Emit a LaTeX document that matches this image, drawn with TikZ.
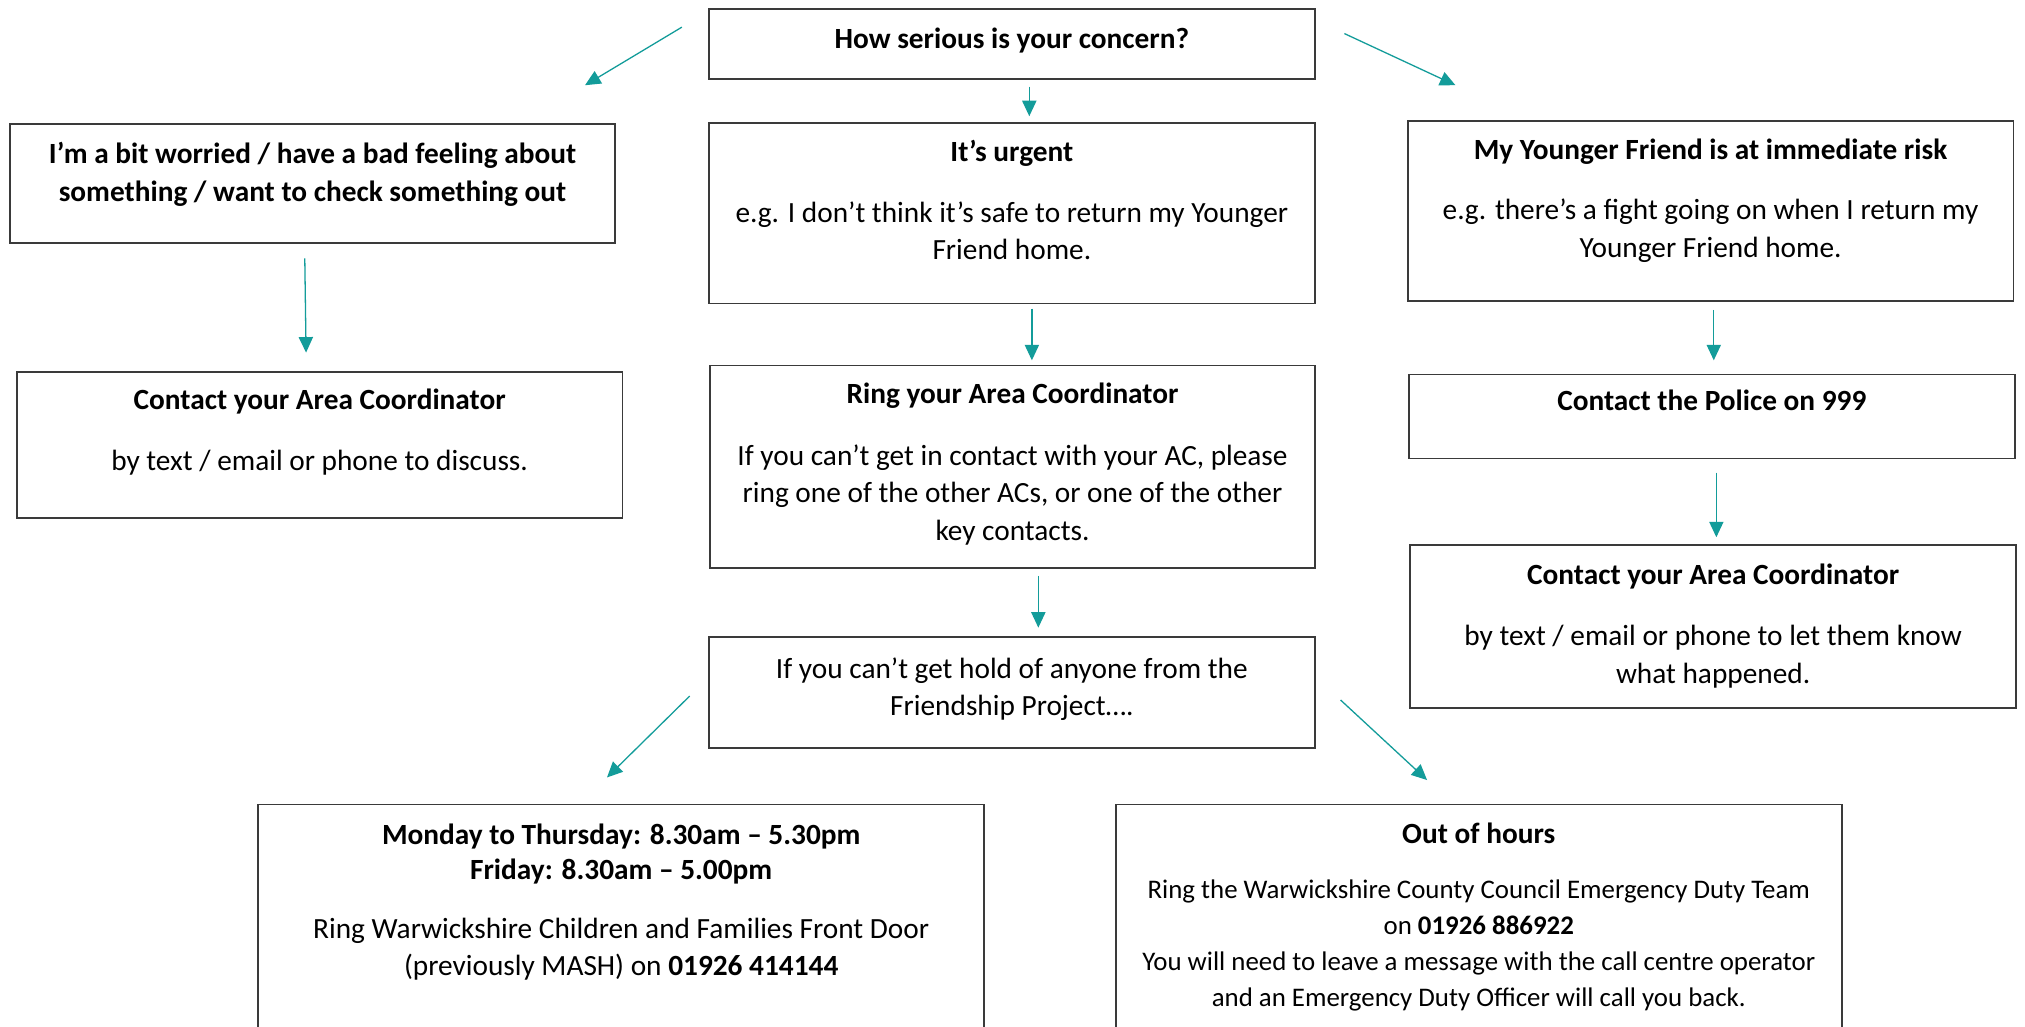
\documentclass[tikz,border=0pt]{standalone}
\usepackage{fontspec}
\setmainfont{Carlito}
\usetikzlibrary{arrows.meta}
\definecolor{tealarrow}{HTML}{139C9A}
\definecolor{boxgray}{HTML}{3A3A3A}
\newcommand\firstlinestrut{\rule{0pt}{20pt}}
\begin{document}
\begin{tikzpicture}[x=1pt,y=-1pt,
  box/.style={draw=boxgray, line width=1.4pt, anchor=north west, inner sep=0pt, outer sep=0pt},
  txt/.style={anchor=north, inner sep=0pt, align=center, font=\fontsize{22.7}{29}\selectfont, execute at begin node=\firstlinestrut},
  txtb/.style={txt, font=\fontsize{22.7}{29}\selectfont\bfseries},
  tightb/.style={txt, font=\fontsize{22.7}{27}\selectfont\bfseries},
  tight/.style={txt, font=\fontsize{22.7}{28}\selectfont},
  small/.style={txt, font=\fontsize{20.8}{28}\selectfont},
  conn/.style={draw=tealarrow, line width=1pt, -{Triangle[length=12pt,width=11pt]}}
]
\useasboundingbox (0,0) rectangle (1568,795.2);
\fill[white] (0,0) rectangle (1568,795.2);
\clip (0,0) rectangle (1568,795.2);

% boxes
\node[box, minimum width=469pt, minimum height=54pt]  (top) at (549,7) {};
\node[box, minimum width=468pt, minimum height=92pt]  (l1)  at (8,96) {};
\node[box, minimum width=469pt, minimum height=140pt] (m1)  at (549,95) {};
\node[box, minimum width=469pt, minimum height=139pt] (r1)  at (1090,94) {};
\node[box, minimum width=469pt, minimum height=113pt] (l2)  at (13,288) {};
\node[box, minimum width=468pt, minimum height=157pt] (m2)  at (550,283) {};
\node[box, minimum width=469pt, minimum height=65pt]  (r2)  at (1091,290) {};
\node[box, minimum width=469pt, minimum height=126pt] (r3)  at (1092,422) {};
\node[box, minimum width=469pt, minimum height=86pt]  (m3)  at (549,493) {};
\node[box, minimum width=562pt, minimum height=200pt] (b1)  at (200,623) {};
\node[box, minimum width=562pt, minimum height=200pt] (b2)  at (864,623) {};

% texts
\node[txtb] (topH) at (783.5,17) {How serious is your concern?};
\node[txtb] (l1H) at (242,110) {I’m a bit worried / have a bad feeling about\\something / want to check something out};
\node[txtb] (m1H) at (783.5,105) {It’s urgent};
\node[txt]  (m1B) at (783.5,156) {e.g. I don’t think it’s safe to return my Younger\\Friend home.};
\node[txtb] (r1H) at (1324.5,103) {My Younger Friend is at immediate risk};
\node[txt]  (r1B) at (1324.5,154) {e.g. there’s a fight going on when I return my\\Younger Friend home.};
\node[txtb] (l2H) at (247.5,297) {Contact your Area Coordinator};
\node[txt]  (l2B) at (247.5,344) {by text / email or phone to discuss.};
\node[txtb] (m2H) at (784,292) {Ring your Area Coordinator};
\node[txt]  (m2B) at (784,344) {If you can’t get in contact with your AC, please\\ring one of the other ACs, or one of the other\\key contacts.};
\node[txtb] (r2H) at (1325.5,298) {Contact the Police on 999};
\node[txtb] (r3H) at (1326.5,432) {Contact your Area Coordinator};
\node[txt]  (r3B) at (1326.5,484) {by text / email or phone to let them know\\what happened.};
\node[txt]  (m3B) at (783.5,509) {If you can’t get hold of anyone from the\\Friendship Project….};
\node[tightb] (b1H) at (481,638) {Monday to Thursday: 8.30am – 5.30pm\\Friday: 8.30am – 5.00pm};
\node[tight]  (b1B) at (481,711) {Ring Warwickshire Children and Families Front Door\\(previously MASH) on \textbf{01926 414144}};
\node[txtb] (b2H) at (1145,633) {Out of hours};
\node[small]  (b2B) at (1145,681) {Ring the Warwickshire County Council Emergency Duty Team\\on \textbf{01926 886922}\\You will need to leave a message with the call centre operator\\and an Emergency Duty Officer will call you back.};

% connector end points
\coordinate (a1) at (528,21);   \coordinate (a2) at (453,66);
\coordinate (b1s) at (797,67);  \coordinate (b1e) at (797,90);
\coordinate (c1) at (1041,26);  \coordinate (c2) at (1127,66);
\coordinate (d1) at (236,200);  \coordinate (d2) at (237,273);
\coordinate (e1) at (799,239);  \coordinate (e2) at (799,279);
\coordinate (f1) at (1327,240); \coordinate (f2) at (1327,279);
\coordinate (g1) at (804,446);  \coordinate (g2) at (804,486);
\coordinate (h1) at (1329,366); \coordinate (h2) at (1329,416);
\coordinate (i1) at (534,539);  \coordinate (i2) at (470,602);
\coordinate (j1) at (1038,542); \coordinate (j2) at (1105,604);

\draw[conn] (a1) -- (a2);
\draw[conn] (b1s) -- (b1e);
\draw[conn] (c1) -- (c2);
\draw[conn] (d1) -- (d2);
\draw[conn] (e1) -- (e2);
\draw[conn] (f1) -- (f2);
\draw[conn] (g1) -- (g2);
\draw[conn] (h1) -- (h2);
\draw[conn] (i1) -- (i2);
\draw[conn] (j1) -- (j2);
\end{tikzpicture}
\end{document}
